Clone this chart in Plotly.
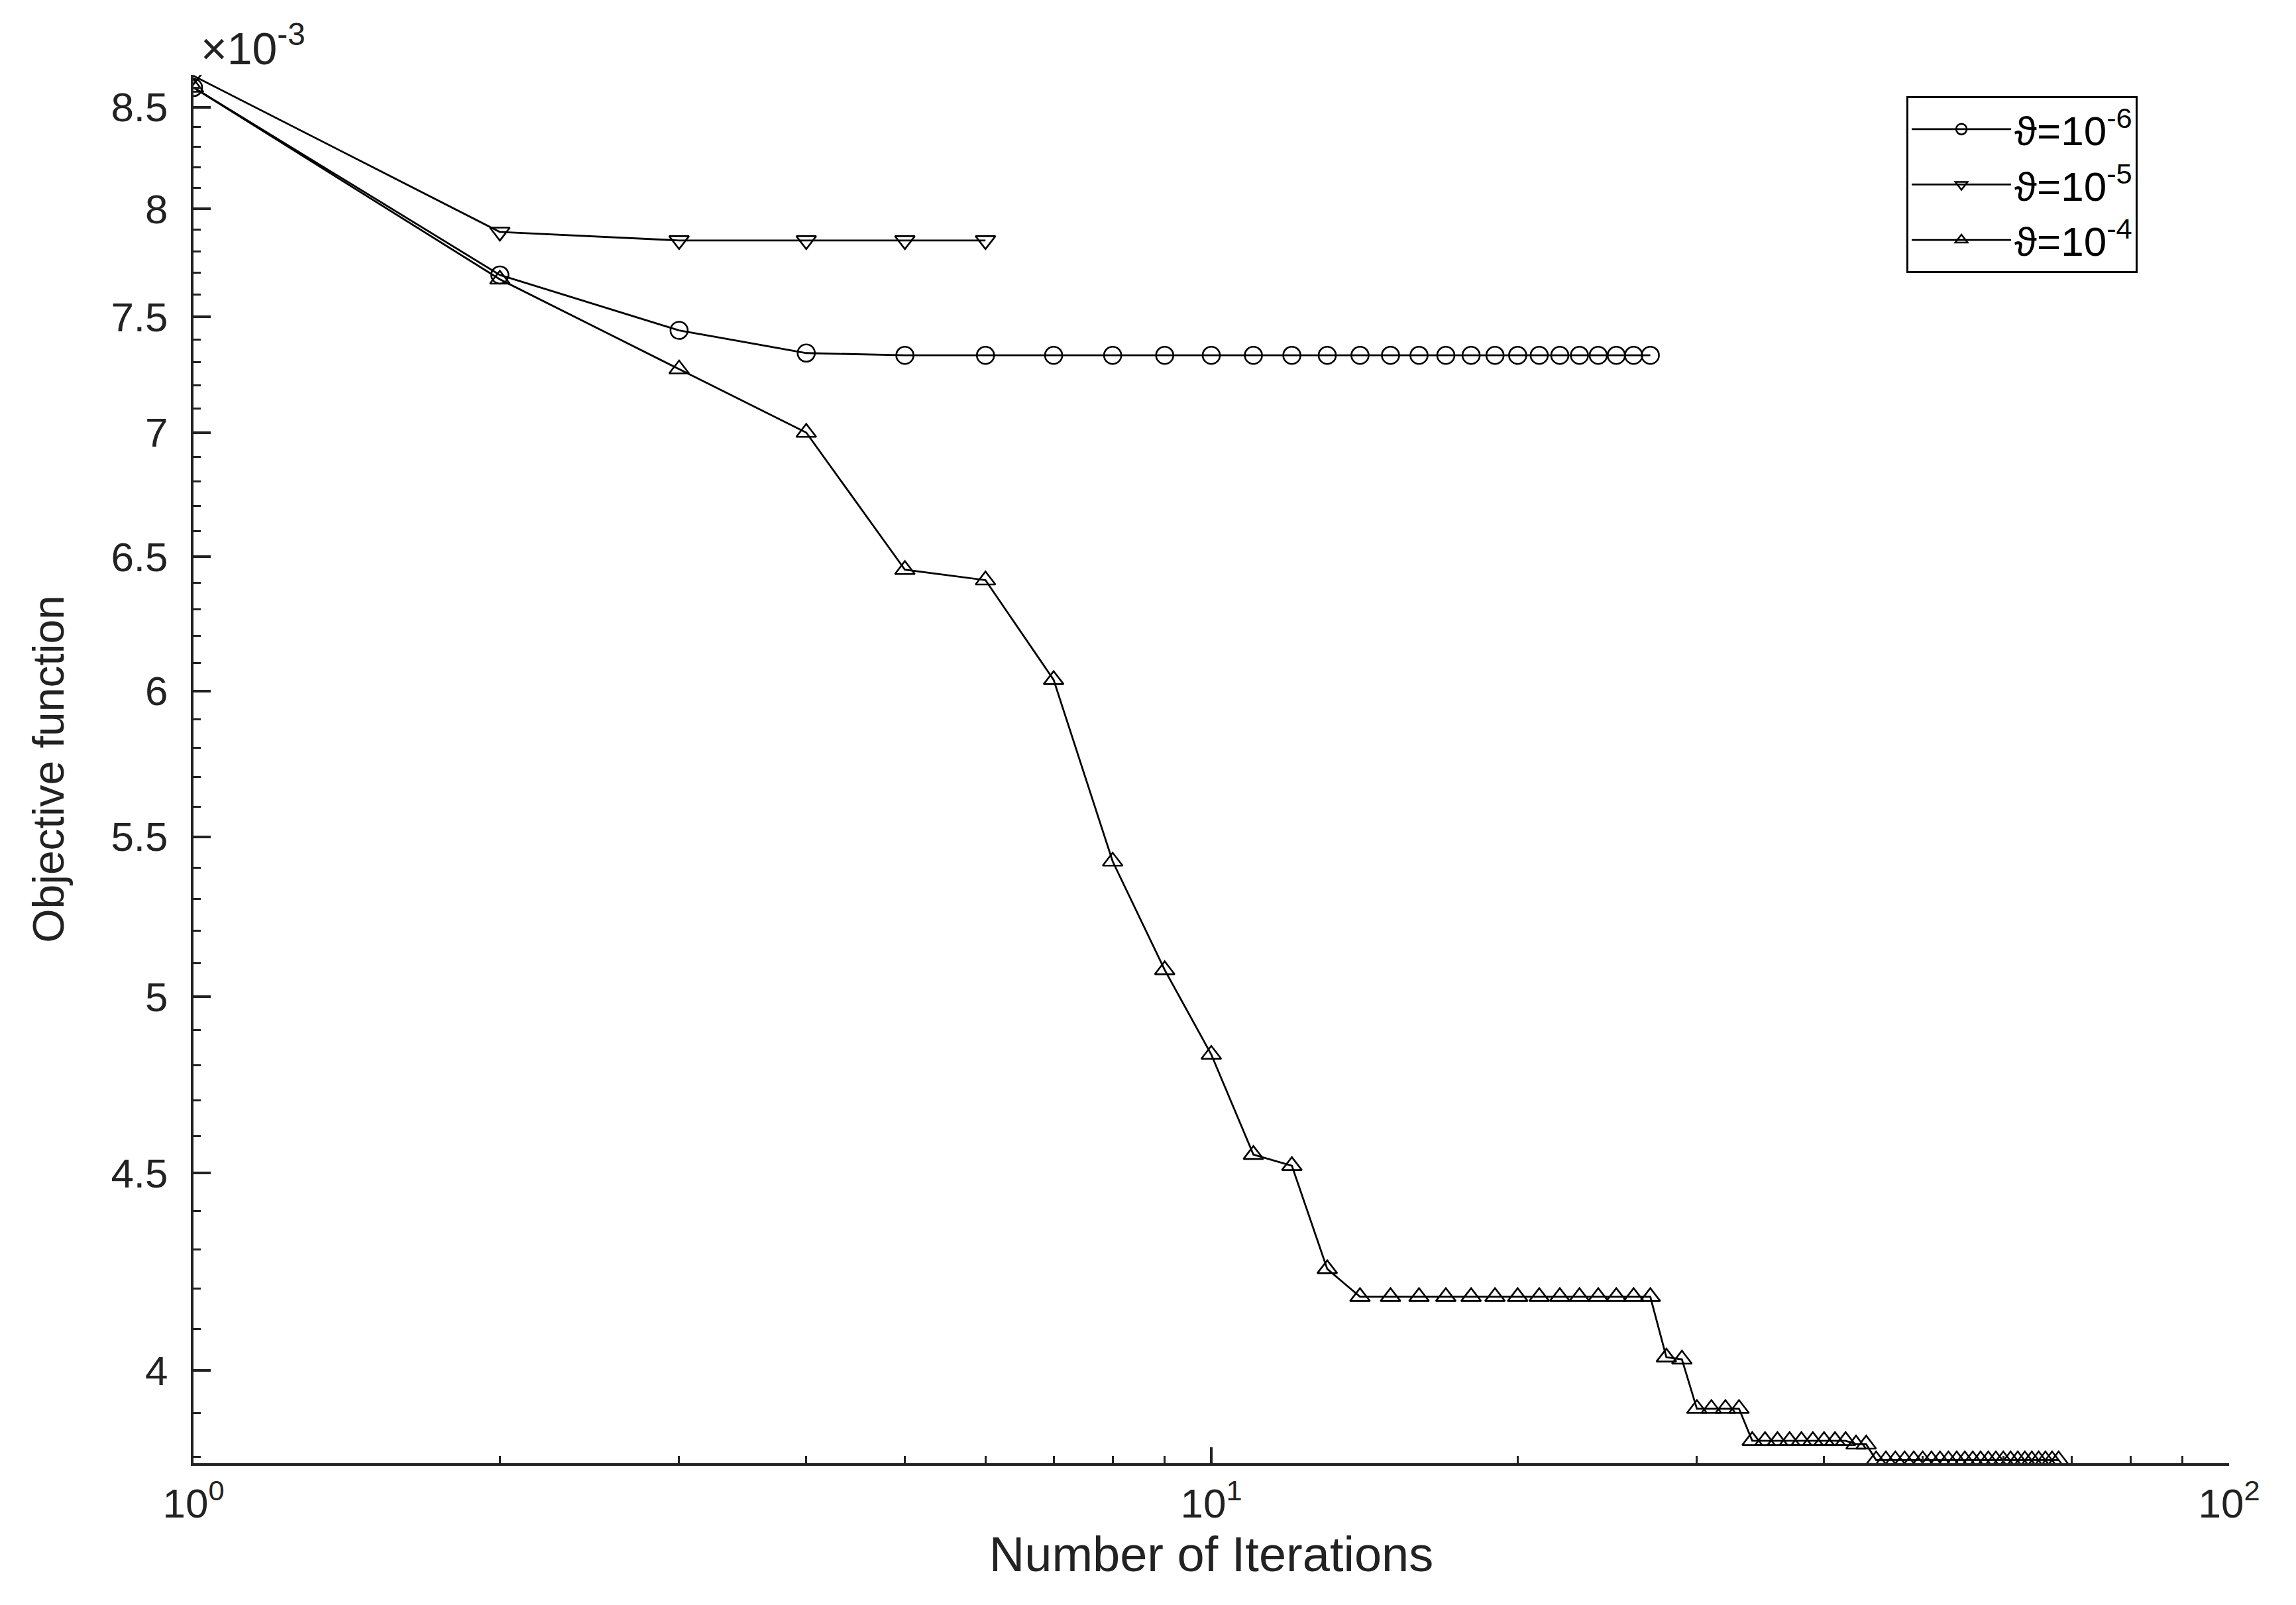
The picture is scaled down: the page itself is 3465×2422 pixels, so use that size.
import numpy as np
import plotly.graph_objects as go

# ---- data (objective function values, in units of 1e-3) ----
iters_1 = list(range(1, 28))
obj_1 = [8.60, 7.69, 7.44, 7.34] + [7.33] * 23

iters_2 = list(range(1, 7))
obj_2 = [8.66, 7.89, 7.85, 7.85, 7.85, 7.85]

iters_3 = list(range(1, 69))
obj_3 = ([8.60, 7.67, 7.27, 7.00, 6.45, 6.41, 6.04, 5.42, 5.08, 4.83, 4.55, 4.52, 4.25]
         + [4.18] * 14
         + [4.032, 4.027]
         + [3.91] * 4
         + [3.836] * 9
         + [3.828] * 2
         + [3.792] * 24)

series_names = ["ϑ=10<sup>-6</sup>", "ϑ=10<sup>-5</sup>", "ϑ=10<sup>-4</sup>"]
x_tick_vals = [1, 10, 100]
x_tick_text = ["10<sup>0</sup>", "10<sup>1</sup>", "10<sup>2</sup>"]
y_tick_vals = [4, 4.5, 5, 5.5, 6, 6.5, 7, 7.5, 8, 8.5]
y_tick_text = ["4", "4.5", "5", "5.5", "6", "6.5", "7", "7.5", "8", "8.5"]

# ---- styling ----
FONT = "Liberation Sans, Arial, sans-serif"
INK = "#222222"

x_minor = [m * d for d in (1, 10) for m in range(2, 10)]
y_minor = [round(v, 1) for v in np.arange(3.8, 8.65, 0.1)
           if not any(abs(v - t) < 1e-6 for t in y_tick_vals)]

fig = go.Figure()
symbols = ["circle-open", "triangle-down-open", "triangle-up-open"]
for xs, ys, name, sym in zip([iters_1, iters_2, iters_3], [obj_1, obj_2, obj_3],
                             series_names, symbols):
    fig.add_trace(go.Scatter(
        x=xs, y=ys, name=name, mode="lines+markers",
        line=dict(color="black", width=2.8),
        marker=dict(symbol=sym, size=26, color="black", line=dict(width=2.6)),
    ))

W, H = 3465, 2422
OFF = 8  # default body margin of the html page
fig.update_layout(
    width=W - 2 * OFF, height=H - 2 * OFF,
    margin=dict(l=292 - OFF, r=W - 3364 - OFF, t=113 - OFF, b=H - 2208 - OFF),
    paper_bgcolor="white", plot_bgcolor="white",
    font=dict(family=FONT, color=INK, size=58),
    showlegend=True,
    legend=dict(
        x=0.8415, y=0.9847, xanchor="left", yanchor="top",
        bgcolor="white", bordercolor="black", borderwidth=3,
        font=dict(family=FONT, size=62, color="black"),
        itemwidth=150, tracegroupgap=0,
        entrywidth=400, entrywidthmode="pixels",
    ),
    xaxis=dict(
        type="log", range=[0, 2],
        tickmode="array", tickvals=x_tick_vals, ticktext=x_tick_text,
        ticks="inside", ticklen=24, tickwidth=4, tickcolor=INK,
        showline=True, linecolor=INK, linewidth=4,
        showgrid=False, zeroline=False,
        tickfont=dict(family=FONT, size=62, color=INK),
        ticklabelstandoff=4,
        minor=dict(tickmode="array", tickvals=x_minor, ticks="inside",
                   ticklen=11, tickwidth=3, tickcolor=INK, showgrid=False),
        title=dict(text="Number of Iterations", standoff=18,
                   font=dict(family=FONT, size=74, color=INK)),
    ),
    yaxis=dict(
        type="log", range=[np.log10(3.785), np.log10(8.665)],
        tickmode="array", tickvals=y_tick_vals, ticktext=y_tick_text,
        ticks="inside", ticklen=26, tickwidth=4, tickcolor=INK,
        showline=True, linecolor=INK, linewidth=4,
        showgrid=False, zeroline=False,
        tickfont=dict(family=FONT, size=62, color=INK),
        ticklabelstandoff=22,
        minor=dict(tickmode="array", tickvals=y_minor, ticks="inside",
                   ticklen=11, tickwidth=3, tickcolor=INK, showgrid=False),
        title=dict(text="Objective function", standoff=50,
                   font=dict(family=FONT, size=66, color=INK)),
    ),
    annotations=[dict(
        text="×10<sup>-3</sup>", xref="paper", yref="paper",
        x=0.003, y=1.0, xanchor="left", yanchor="bottom", showarrow=False,
        font=dict(family=FONT, size=68, color=INK),
    )],
)

fig.write_html("out.html")
